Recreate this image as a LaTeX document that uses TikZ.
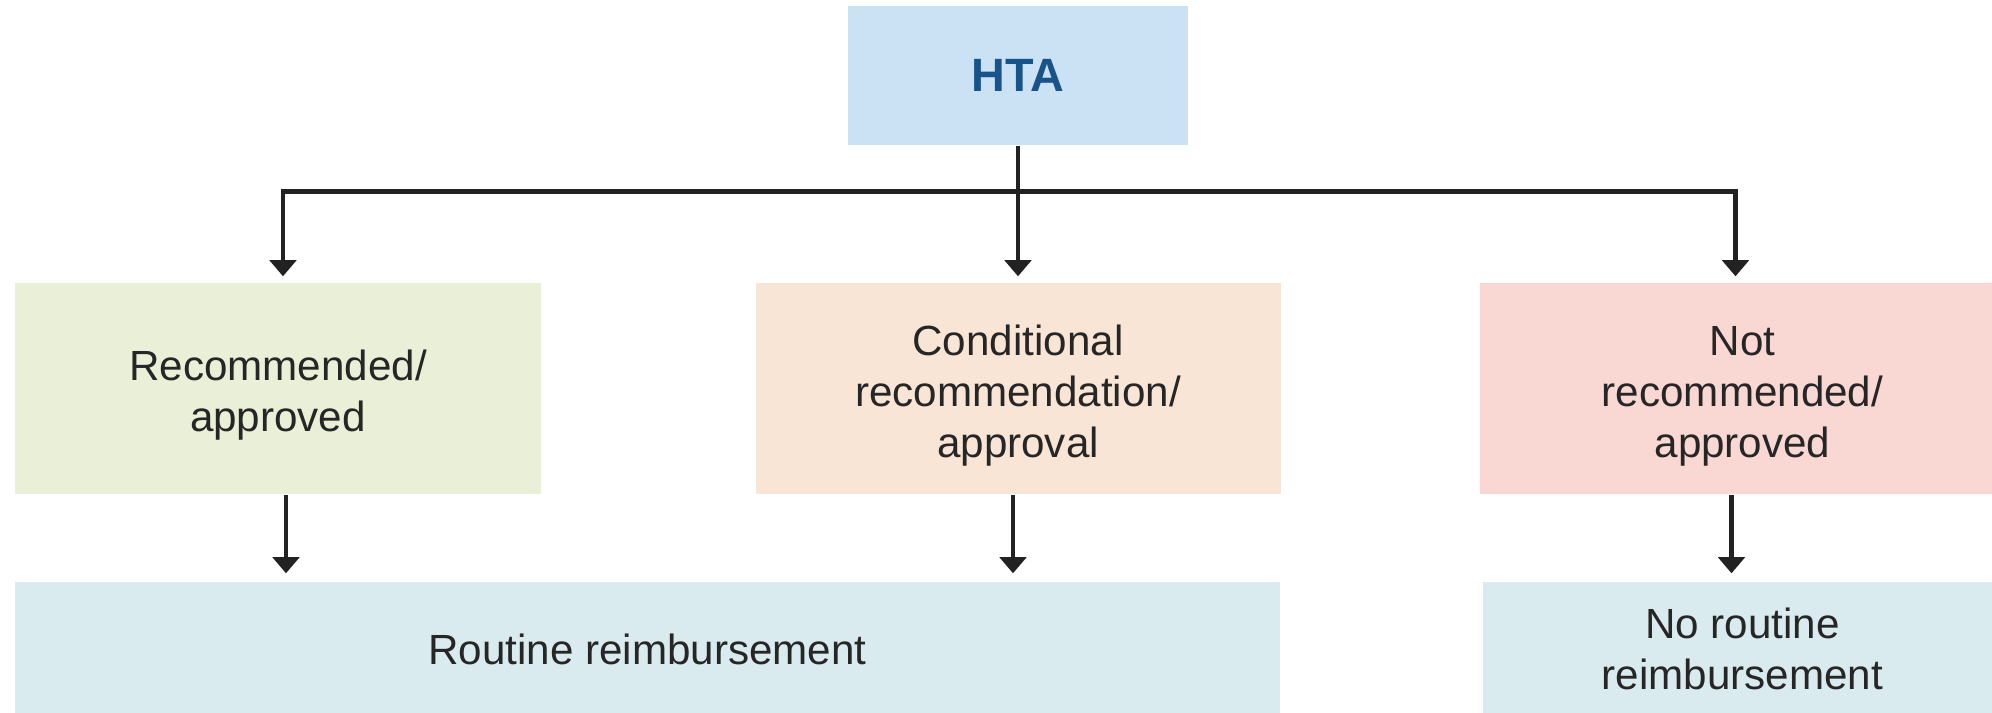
\documentclass[tikz,border=0pt]{standalone}
\usepackage{fontspec}
\setmainfont{Liberation Sans}
\usepackage{tikz}
\usetikzlibrary{positioning, arrows.meta}

\definecolor{htafill}{HTML}{CBE2F5}
\definecolor{htatext}{HTML}{18548A}
\definecolor{recfill}{HTML}{EAF0D8}
\definecolor{condfill}{HTML}{F9E5D5}
\definecolor{notfill}{HTML}{F9D7D2}
\definecolor{payfill}{HTML}{D9EBEF}
\definecolor{textgray}{HTML}{262626}
\definecolor{linegray}{HTML}{222222}

% taller first line, pushes the text a little down in its box
\newcommand{\dropline}{\rule{0pt}{12.5pt}}

\begin{document}
\begin{tikzpicture}[node distance=3.13cm,font=\fontsize{12}{14.5}\selectfont]
    \tikzstyle{htabox} = [rectangle,
minimum width=3.4cm,
minimum height=1.39cm,
inner sep=0pt,
fill=htafill,
text=htatext,
font=\fontsize{13.3}{15}\selectfont\bfseries]

\tikzstyle{decisionbox} = [rectangle,
minimum width=5.25cm,
minimum height=2.11cm,
text centered, align=center,
inner sep=0pt,
text=textgray]

\tikzstyle{paybox} = [rectangle,
minimum height=1.34cm,
text centered, align=center,
inner sep=0pt,
fill=payfill,
text=textgray]
\tikzstyle{arrow} = [line width=1.3pt, draw=linegray, -{Triangle[width=7.5pt,length=4.6pt]}]

\useasboundingbox (0,0) rectangle (19.92,-7.12);

\node (hta) [htabox] at (10.18,-0.755) {HTA};
\node (cond) [decisionbox, fill=condfill, below of=hta] {\dropline Conditional\\recommendation/\\approval};
\node (rec) [decisionbox, fill=recfill, left of=cond, xshift=-4.27cm] {\dropline Recommended/\\approved};
\node (notrec) [decisionbox, fill=notfill, right of=cond, xshift=4.115cm] {\dropline Not\\recommended/\\approved};
\node (routine) [paybox, minimum width=12.64cm, below of=rec, yshift=0.525cm, xshift=3.695cm] {Routine reimbursement};
\node (noroutine) [paybox, minimum width=5.2cm, below of=notrec, yshift=0.525cm] {No routine\\reimbursement};

\path (hta.south) ++(0,-0.455) coordinate (split);

\draw [arrow, shorten >=0.06cm] (hta) -- (cond);
\draw [arrow, shorten >=0.06cm] (split) -| ([xshift=0.05cm]rec.north);
\draw [arrow, shorten >=0.06cm] (split) -| ([xshift=-0.07cm]notrec.north);
\draw [arrow, shorten >=0.08cm] ([xshift=0.08cm]rec.south) -- ([xshift=0.08cm]rec.south |- routine.north);
\draw [arrow, shorten >=0.08cm] ([xshift=-0.05cm]cond.south) -- ([xshift=-0.05cm]cond.south |- routine.north);
\draw [arrow, shorten >=0.08cm] ([xshift=-0.11cm]notrec.south) -- ([xshift=-0.11cm]notrec.south |- noroutine.north);

\end{tikzpicture}
\end{document}
